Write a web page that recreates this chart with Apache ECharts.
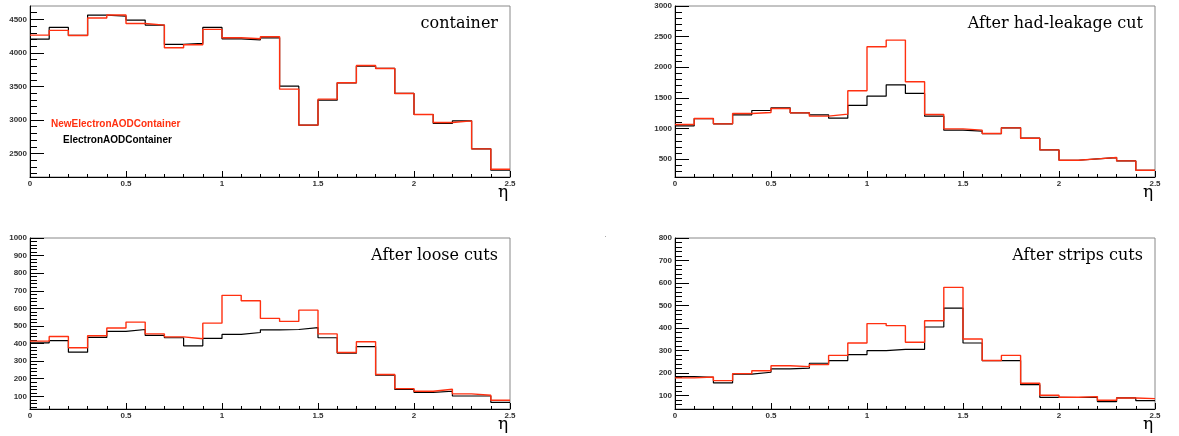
<!DOCTYPE html>
<html>
<head>
<meta charset="utf-8">
<script src="https://cdn.jsdelivr.net/npm/echarts@6/dist/echarts.min.js"></script>
<style>
html, body { margin: 0; padding: 0; background: #fff; }
#main { width: 1179px; height: 436px; }
</style>
</head>
<body>
<div id="main"></div>
<script>
// bin lower edges in eta (25 bins of 0.1)
var etaEdges = [0.0, 0.1, 0.2, 0.3, 0.4, 0.5, 0.6, 0.7, 0.8, 0.9, 1.0, 1.1, 1.2,
	1.3, 1.4, 1.5, 1.6, 1.7, 1.8, 1.9, 2.0, 2.1, 2.2, 2.3, 2.4];
var etaMax = 2.5;

// container
var contOld = [4206, 4381, 4261, 4565, 4550, 4490, 4415, 4127, 4142, 4381, 4211, 4196, 4226,
	3505, 2923, 3296, 3555, 3803, 3769, 3396, 3082, 2948, 2987, 2570, 2251];
var contNew = [4266, 4336, 4261, 4520, 4565, 4440, 4415, 4077, 4122, 4351, 4226, 4211, 4241,
	3460, 2923, 3311, 3555, 3813, 3769, 3396, 3082, 2963, 2987, 2570, 2266];

// after had-leakage cut
var hadOld = [1045, 1164, 1077, 1224, 1295, 1339, 1257, 1224, 1170, 1377, 1529, 1714, 1573,
	1203, 974, 957, 919, 1012, 843, 652, 483, 505, 527, 473, 320];
var hadNew = [1066, 1164, 1077, 1246, 1262, 1328, 1257, 1203, 1235, 1617, 2335, 2444, 1764,
	1230, 996, 974, 919, 1012, 843, 652, 483, 505, 527, 473, 320];

// after loose cuts
var looseOld = [404, 417, 351, 435, 469, 480, 446, 433, 387, 429, 452, 463, 478,
	480, 491, 433, 345, 383, 220, 139, 123, 129, 102, 102, 66];
var looseNew = [414, 440, 376, 444, 488, 522, 455, 438, 427, 516, 674, 643, 543,
	526, 590, 455, 349, 410, 224, 144, 129, 140, 114, 106, 78];

// after strips cuts
var stripOld = [185, 182, 157, 196, 204, 219, 222, 244, 256, 282, 300, 306, 306,
	405, 489, 334, 256, 256, 149, 93, 92, 93, 74, 90, 78];
var stripNew = [179, 183, 167, 198, 211, 233, 229, 238, 279, 334, 420, 411, 337,
	433, 581, 352, 256, 279, 155, 102, 93, 96, 80, 90, 87];

var titles = ["container", "After had-leakage cut", "After loose cuts", "After strips cuts"];
var yMin = [2150, 210, 28, 41];
var yMax = [4700, 3000, 1000, 800];
var yMajor = [
	[2500, 3000, 3500, 4000, 4500],
	[500, 1000, 1500, 2000, 2500, 3000],
	[100, 200, 300, 400, 500, 600, 700, 800, 900, 1000],
	[100, 200, 300, 400, 500, 600, 700, 800]
];
var yMinorStep = [100, 100, 20, 20];
var legendNames = ["NewElectronAODContainer", "ElectronAODContainer"];

function init () {
	var cc = echarts.init(document.getElementById("main"));

	// 直方图: 每个bin左边界一个点, 最后补右边界
	function hist(vals) {
		var d = [];
		for (var i = 0; i < etaEdges.length; i++) {
			d.push([etaEdges[i], vals[i]]);
		}
		d.push([etaMax, vals[vals.length - 1]]);
		return d;
	}

	function minors(k) {
		var out = [];
		for (var v = Math.ceil(yMin[k] / yMinorStep[k]) * yMinorStep[k]; v < yMax[k]; v += yMinorStep[k]) {
			out.push(v);
		}
		return out;
	}

	var boxes = [
		{left: 30, top: 6},
		{left: 675, top: 6},
		{left: 30, top: 238},
		{left: 675, top: 238}
	];
	var pairs = [[contOld, contNew], [hadOld, hadNew], [looseOld, looseNew], [stripOld, stripNew]];

	var grids = [], xAxes = [], yAxes = [], series = [], graphic = [];
	var lab = {fontSize: 8, fontWeight: "bold", color: "#333", fontFamily: "Liberation Sans",
		formatter: function (v) { return String(v); }};

	for (var k = 0; k < 4; k++) {
		grids.push({
			left: boxes[k].left, top: boxes[k].top, width: 480, height: 171,
			show: true, borderColor: "#888", borderWidth: 1
		});
		xAxes.push({
			type: "value", gridIndex: k, min: 0, max: etaMax, interval: 0.5,
			axisLine: {lineStyle: {color: "#000", width: 1}},
			axisTick: {inside: true, length: 6, lineStyle: {color: "#000"}},
			minorTick: {show: true, splitNumber: 5, length: 3, lineStyle: {color: "#000"}},
			splitLine: {show: false},
			axisLabel: Object.assign({margin: 3}, lab)
		});
		yAxes.push({
			type: "value", gridIndex: k, min: yMin[k], max: yMax[k],
			axisLine: {show: true, lineStyle: {color: "#000", width: 1}},
			axisTick: {inside: true, length: 14, customValues: yMajor[k], lineStyle: {color: "#000"}},
			axisLabel: Object.assign({margin: 3, customValues: yMajor[k]}, lab),
			splitLine: {show: false}
		});
		// 小刻度
		yAxes.push({
			type: "value", gridIndex: k, min: yMin[k], max: yMax[k], position: "left",
			axisLine: {show: false},
			axisTick: {inside: true, length: 7, customValues: minors(k), lineStyle: {color: "#000"}},
			axisLabel: {show: false},
			splitLine: {show: false}
		});
		series.push({
			type: "line", step: "end", xAxisIndex: k, yAxisIndex: 2 * k,
			name: legendNames[1], data: hist(pairs[k][0]), symbol: "none",
			lineStyle: {color: "#000", width: 1.2}, z: 2
		});
		series.push({
			type: "line", step: "end", xAxisIndex: k, yAxisIndex: 2 * k,
			name: legendNames[0], data: hist(pairs[k][1]), symbol: "none",
			lineStyle: {color: "#ff3010", width: 1.4}, z: 3
		});
		graphic.push({
			type: "text", right: 1179 - (boxes[k].left + 468), top: boxes[k].top + 10,
			style: {text: titles[k], font: "16px 'DejaVu Serif'", fill: "#000"}
		});
		graphic.push({
			type: "text", left: boxes[k].left + 468, top: boxes[k].top + 178,
			style: {text: "η", font: "17px 'DejaVu Serif'", fill: "#000"}
		});
	}

	graphic.push({
		type: "text", left: 51, top: 119,
		style: {text: legendNames[0], font: "bold 10px 'Liberation Sans'", fill: "#ff3010"}
	});
	graphic.push({
		type: "text", left: 63, top: 135,
		style: {text: legendNames[1], font: "bold 10px 'Liberation Sans'", fill: "#000"}
	});
	graphic.push({
		type: "rect", left: 605, top: 236, shape: {width: 1, height: 1},
		style: {fill: "#aaa"}
	});

	var op = {
		animation: false,
		backgroundColor: "#fff",
		grid: grids,
		xAxis: xAxes,
		yAxis: yAxes,
		series: series,
		graphic: graphic
	};

	cc.setOption(op);
}
init();
</script>
</body>
</html>
